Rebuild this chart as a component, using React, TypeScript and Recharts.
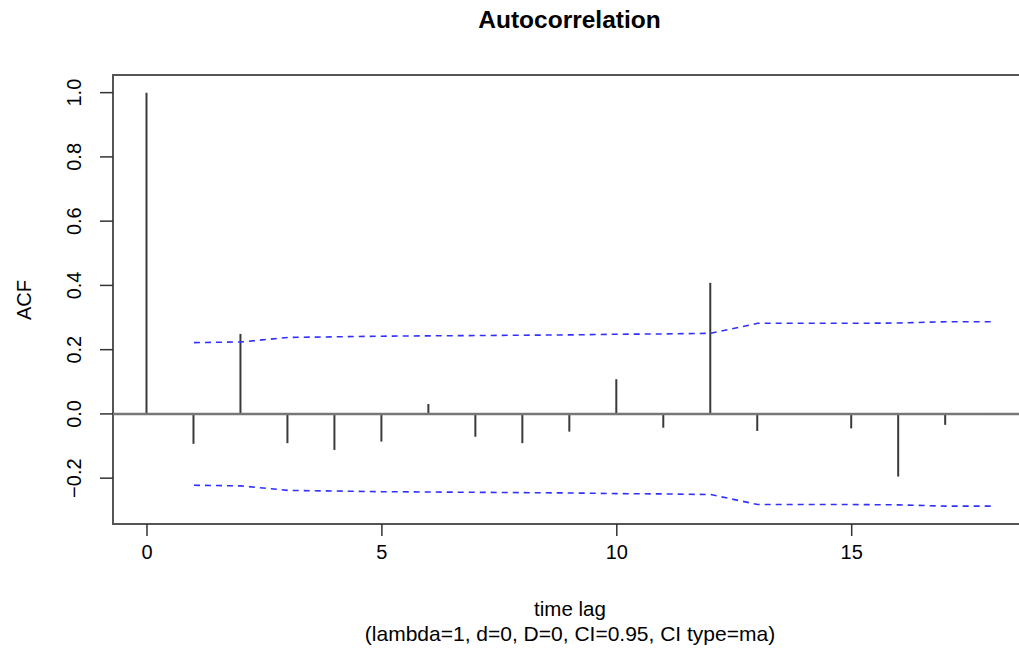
import React from "react";
import {
  ComposedChart,
  Bar,
  Line,
  XAxis,
  YAxis,
  ReferenceLine,
  ReferenceArea,
} from "recharts";

const lags = [0, 1, 2, 3, 4, 5, 6, 7, 8, 9, 10, 11, 12, 13, 14, 15, 16, 17, 18];
const acfValues = [
  1.0, -0.093, 0.249, -0.091, -0.112, -0.086, 0.031, -0.071, -0.091, -0.055,
  0.108, -0.043, 0.408, -0.053, -0.002, -0.045, -0.195, -0.034, 0.003,
];
// confidence bound per lag (none for lag 0)
const ciBound = [
  null, 0.222, 0.224, 0.238, 0.24, 0.242, 0.243, 0.244, 0.245, 0.246, 0.248,
  0.249, 0.251, 0.282, 0.282, 0.282, 0.283, 0.287, 0.287,
];
const xTicks = [0, 5, 10, 15];
const yTicks = [-0.2, 0, 0.2, 0.4, 0.6, 0.8, 1.0];

const X_MIN = -0.7234;
const X_MAX = 18.71;
const Y_MIN = -0.3426;
const Y_MAX = 1.0549;

const FONT = '"Liberation Sans", Arial, Helvetica, sans-serif';

const data = lags.map((lag, i) => ({
  lag,
  acf: acfValues[i],
  upper: ciBound[i],
  lower: ciBound[i] == null ? null : -(ciBound[i] as number),
}));

const fmtY = (v: number) =>
  v < 0 ? "\u2212" + Math.abs(v).toFixed(1) : v.toFixed(1);

const XTick = (props: any) => {
  const { x, y, payload } = props;
  return (
    <text
      x={x}
      y={y}
      dy={21}
      textAnchor="middle"
      fontFamily={FONT}
      fontSize={20}
      fill="#000"
    >
      {payload.value}
    </text>
  );
};

const YTick = (props: any) => {
  const { x, y, payload } = props;
  return (
    <text
      x={0}
      y={0}
      transform={`translate(${x - 24},${y}) rotate(-90)`}
      textAnchor="middle"
      dy="0.36em"
      fontFamily={FONT}
      fontSize={20}
      fill="#000"
    >
      {fmtY(payload.value)}
    </text>
  );
};

export default function App() {
  return (
    <div
      style={{
        position: "absolute",
        left: 0,
        top: 0,
        width: 1019,
        height: 651,
        overflow: "hidden",
        background: "#fff",
      }}
    >
      <ComposedChart
        width={1026}
        height={651}
        data={data}
        margin={{ top: 75, right: 0, bottom: 87, left: 0 }}
      >
        <XAxis
          dataKey="lag"
          type="number"
          domain={[X_MIN, X_MAX]}
          ticks={xTicks}
          allowDataOverflow
          axisLine={false}
          tickSize={12}
          tickLine={{ stroke: "#333", strokeWidth: 1.5 }}
          tick={<XTick />}
          height={40}
        />
        <YAxis
          type="number"
          domain={[Y_MIN, Y_MAX]}
          ticks={yTicks}
          allowDataOverflow
          axisLine={false}
          tickSize={13}
          tickLine={{ stroke: "#333", strokeWidth: 1.5 }}
          tick={<YTick />}
          width={113}
        />
        <ReferenceArea
          x1={X_MIN}
          x2={X_MAX}
          y1={Y_MIN}
          y2={Y_MAX}
          fill="none"
          stroke="#555"
          strokeWidth={2}
          ifOverflow="visible"
        />
        <ReferenceLine y={0} stroke="#777" strokeWidth={2.5} />
        <Bar dataKey="acf" barSize={2} fill="#3a3a3a" isAnimationActive={false} />
        <Line
          dataKey="upper"
          type="linear"
          stroke="#3030ff"
          strokeWidth={1.6}
          strokeDasharray="6 5"
          dot={false}
          isAnimationActive={false}
        />
        <Line
          dataKey="lower"
          type="linear"
          stroke="#3030ff"
          strokeWidth={1.6}
          strokeDasharray="6 5"
          dot={false}
          isAnimationActive={false}
        />
      </ComposedChart>
      <svg
        width={1019}
        height={651}
        style={{ position: "absolute", left: 0, top: 0, pointerEvents: "none" }}
      >
        <text
          x={569.5}
          y={28}
          textAnchor="middle"
          fontFamily={FONT}
          fontWeight="bold"
          fontSize={24.5}
        >
          Autocorrelation
        </text>
        <text
          x={0}
          y={0}
          transform="translate(31,300) rotate(-90)"
          textAnchor="middle"
          fontFamily={FONT}
          fontSize={20}
        >
          ACF
        </text>
        <text
          x={570}
          y={616}
          textAnchor="middle"
          fontFamily={FONT}
          fontSize={20.5}
        >
          time lag
        </text>
        <text
          x={570}
          y={641}
          textAnchor="middle"
          fontFamily={FONT}
          fontSize={21}
        >
          (lambda=1, d=0, D=0, CI=0.95, CI type=ma)
        </text>
      </svg>
    </div>
  );
}
